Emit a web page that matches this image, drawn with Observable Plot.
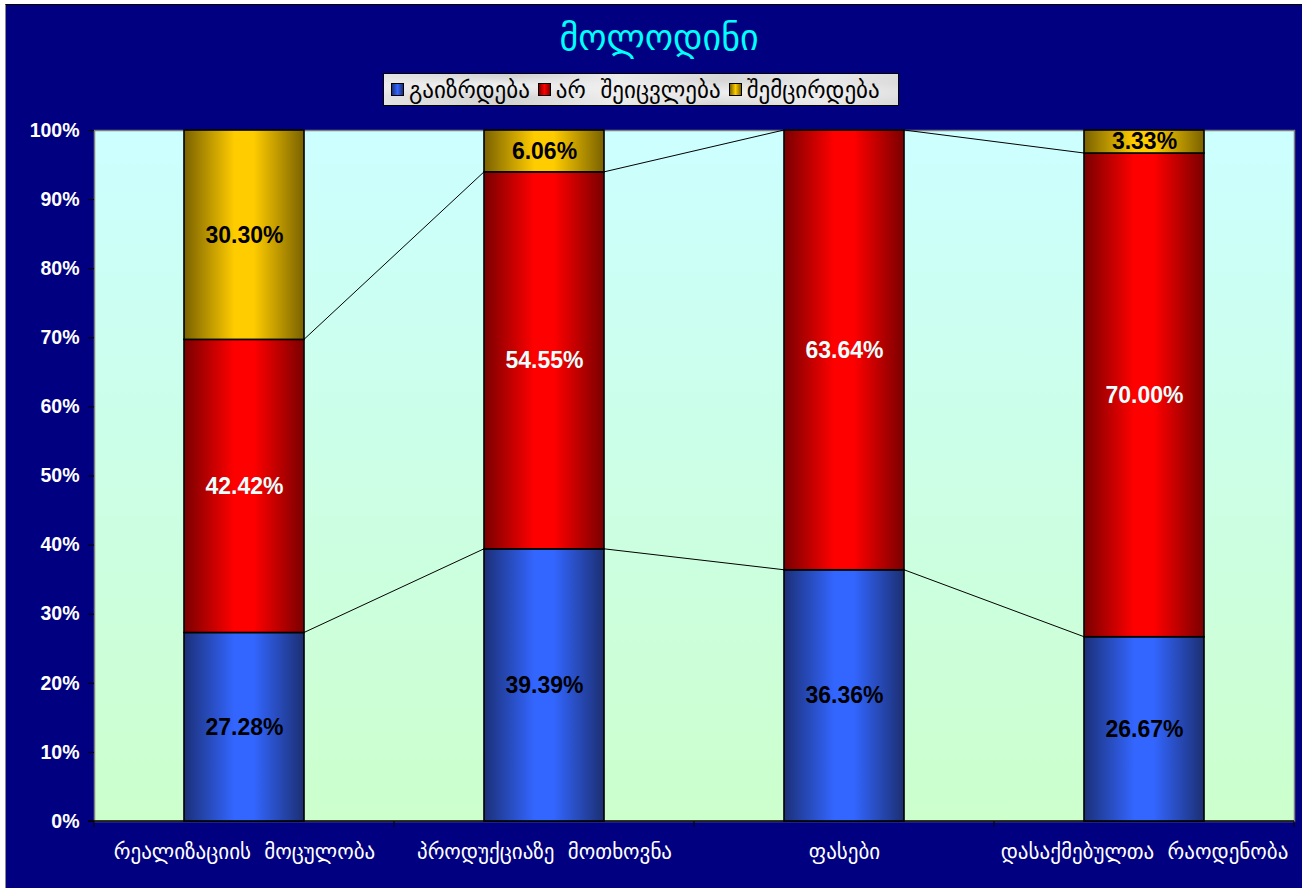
<!DOCTYPE html>
<html>
<head>
<meta charset="utf-8">
<script src="https://cdn.jsdelivr.net/npm/d3@7"></script>
<script src="https://cdn.jsdelivr.net/npm/@observablehq/plot@0.6"></script>
<style>
  html, body { margin: 0; padding: 0; background: #ffffff; width: 1302px; height: 888px; overflow: hidden; }
  #frame { position: absolute; left: 5px; top: 4px; width: 1297px; height: 884px; background: #000080;
           border-top: 1px solid #000; border-left: 1px solid #8a8a8a; box-sizing: border-box; }
  #title { position: absolute; left: 8px; width: 1302px; top: 16px; text-align: center; color: #00ffff;
           font-family: "DejaVu Sans", sans-serif; font-size: 36px; line-height: 44px; }
  #legend { position: absolute; left: 383px; top: 73px; width: 516px; height: 33px; box-sizing: border-box;
            border: 1px solid #000;
            background: radial-gradient(ellipse at 20% 40%, #f2f2f2 0%, rgba(255,255,255,0) 40%),
                        radial-gradient(ellipse at 70% 60%, #f0f0f0 0%, rgba(255,255,255,0) 45%),
                        linear-gradient(110deg, #e4e4e4, #d2d2d2 25%, #ebebeb 45%, #d6d6d6 65%, #e8e8e8 85%, #dadada);
            display: flex; align-items: center; padding-left: 7px;
            font-family: "DejaVu Sans", sans-serif; font-size: 23px; color: #000; white-space: pre; }
  .sw { display: inline-block; width: 11px; height: 11px; border: 1px solid #000; margin-right: 5px; }
  .item { display: flex; align-items: center; margin-right: 8px; }
  #chart { position: absolute; left: 0; top: 110px; }
</style>
</head>
<body>
<div id="frame"></div>
<div id="title"></div>
<div id="legend"></div>
<div id="chart"></div>
<script>
// ---- data ----
const titleText = "მოლოდინი";
const categories = ["რეალიზაციის  მოცულობა", "პროდუქციაზე  მოთხოვნა", "ფასები", "დასაქმებულთა  რაოდენობა"];
const seriesNames = ["გაიზრდება", "არ  შეიცვლება", "შემცირდება"];
const increase = [27.28, 39.39, 36.36, 26.67];
const noChange = [42.42, 54.55, 63.64, 70.00];
const decrease = [30.30, 6.06, 0, 3.33];
const yTicks = [0, 10, 20, 30, 40, 50, 60, 70, 80, 90, 100];

// ---- styles ----
const grad = {
  "gBlue":   ["#1c3078", "#3366ff", "#1c2f72"],
  "gRed":    ["#7a0000", "#ff0000", "#7a0000"],
  "gYellow": ["#7a6200", "#ffcc00", "#7a6200"]
};
const gradIds = ["gBlue", "gRed", "gYellow"];

const seriesValues = [increase, noChange, decrease];
const data = [];
categories.forEach((c, i) => {
  seriesNames.forEach((s, k) => data.push({category: c, series: s, value: seriesValues[k][i]}));
});

document.getElementById("title").textContent = titleText;
const legend = document.getElementById("legend");
seriesNames.forEach((s, k) => {
  const it = document.createElement("span");
  it.className = "item";
  const sw = document.createElement("span");
  sw.className = "sw";
  const g = grad[gradIds[k]];
  sw.style.background = `linear-gradient(to right, ${g[0]}, ${g[1]} 50%, ${g[2]})`;
  it.appendChild(sw);
  it.appendChild(document.createTextNode(s));
  legend.appendChild(it);
});

function defsMark() {
  const defs = d3.create("svg:defs");
  for (const id of gradIds) {
    const g = grad[id];
    const lg = defs.append("linearGradient").attr("id", id).attr("x1", 0).attr("x2", 1).attr("y1", 0).attr("y2", 0);
    lg.append("stop").attr("offset", 0).attr("stop-color", g[0]);
    lg.append("stop").attr("offset", 0.42).attr("stop-color", g[1]);
    lg.append("stop").attr("offset", 0.58).attr("stop-color", g[1]);
    lg.append("stop").attr("offset", 1).attr("stop-color", g[2]);
  }
  const bg = defs.append("linearGradient").attr("id", "gBg").attr("x1", 0).attr("x2", 0).attr("y1", 0).attr("y2", 1);
  bg.append("stop").attr("offset", 0).attr("stop-color", "#ccffff");
  bg.append("stop").attr("offset", 1).attr("stop-color", "#ccffcc");
  return defs.node();
}

function boundaryTicks(index, scales, values, dims) {
  const x = scales.x;
  const bw = x.bandwidth();
  const step = x.step();
  const y0 = dims.height - dims.marginBottom;
  const g = d3.create("svg:g").attr("stroke", "#000").attr("stroke-width", 1);
  const xs = categories.map(c => x(c) - (step - bw) / 2);
  xs.push(x(categories[categories.length - 1]) + bw + (step - bw) / 2);
  for (const xv of xs) g.append("line").attr("x1", xv).attr("x2", xv).attr("y1", y0).attr("y2", y0 + 6);
  g.append("line").attr("x1", dims.marginLeft - 6).attr("x2", dims.width - dims.marginRight).attr("y1", y0).attr("y2", y0).attr("stroke-width", 1.5);
  return g.node();
}

function seriesLines(index, scales) {
  const x = scales.x, y = scales.y;
  const bw = x.bandwidth();
  const g = d3.create("svg:g").attr("stroke", "#000").attr("stroke-width", 1).attr("fill", "none");
  const cum1 = increase;
  const cum2 = increase.map((v, i) => v + noChange[i]);
  for (const cum of [cum1, cum2]) {
    for (let i = 0; i < categories.length - 1; i++) {
      g.append("line")
        .attr("x1", x(categories[i]) + bw).attr("y1", y(cum[i]))
        .attr("x2", x(categories[i + 1])).attr("y2", y(cum[i + 1]));
    }
  }
  return g.node();
}

const fmt = d => d.value > 0 ? d.value.toFixed(2) + "%" : null;

const chart = Plot.plot({
  width: 1302,
  height: 778,
  marginTop: 20,
  marginLeft: 94,
  marginRight: 8,
  marginBottom: 67,
  style: {background: "transparent", color: "white", overflow: "visible"},
  x: {domain: categories, paddingInner: 0.6, paddingOuter: 0.3, label: null},
  y: {domain: [0, 100], label: null},
  color: {domain: seriesNames, range: gradIds.map(id => `url(#${id})`)},
  marks: [
    defsMark,
    Plot.frame({fill: "url(#gBg)", stroke: "#808080", strokeWidth: 1.5}),
    Plot.axisY({ticks: yTicks, tickFormat: d => d + "%", tickSize: 6, tickPadding: 9,
                stroke: "#000", fill: "white", fontSize: 19.5, fontWeight: "bold",
                fontFamily: "Liberation Sans, Arial, sans-serif", label: null}),
    Plot.axisX({tickSize: 0, tickPadding: 23, fill: "white", fontSize: 21,
                fontFamily: "DejaVu Sans, sans-serif", label: null}),
    boundaryTicks,
    seriesLines,
    Plot.barY(data, Plot.stackY({x: "category", y: "value", fill: "series", stroke: "#000", strokeWidth: 1.6})),
    Plot.text(data, Plot.stackY({x: "category", y: "value",
      text: d => d.series === seriesNames[1] ? null : fmt(d),
      fill: "#000", fontSize: 23, fontWeight: "bold", fontFamily: "Liberation Sans, Arial, sans-serif"})),
    Plot.text(data, Plot.stackY({x: "category", y: "value",
      text: d => d.series === seriesNames[1] ? fmt(d) : null,
      fill: "#e6ffff", fontSize: 23, fontWeight: "bold", fontFamily: "Liberation Sans, Arial, sans-serif"}))
  ]
});
document.getElementById("chart").appendChild(chart);
</script>
</body>
</html>
